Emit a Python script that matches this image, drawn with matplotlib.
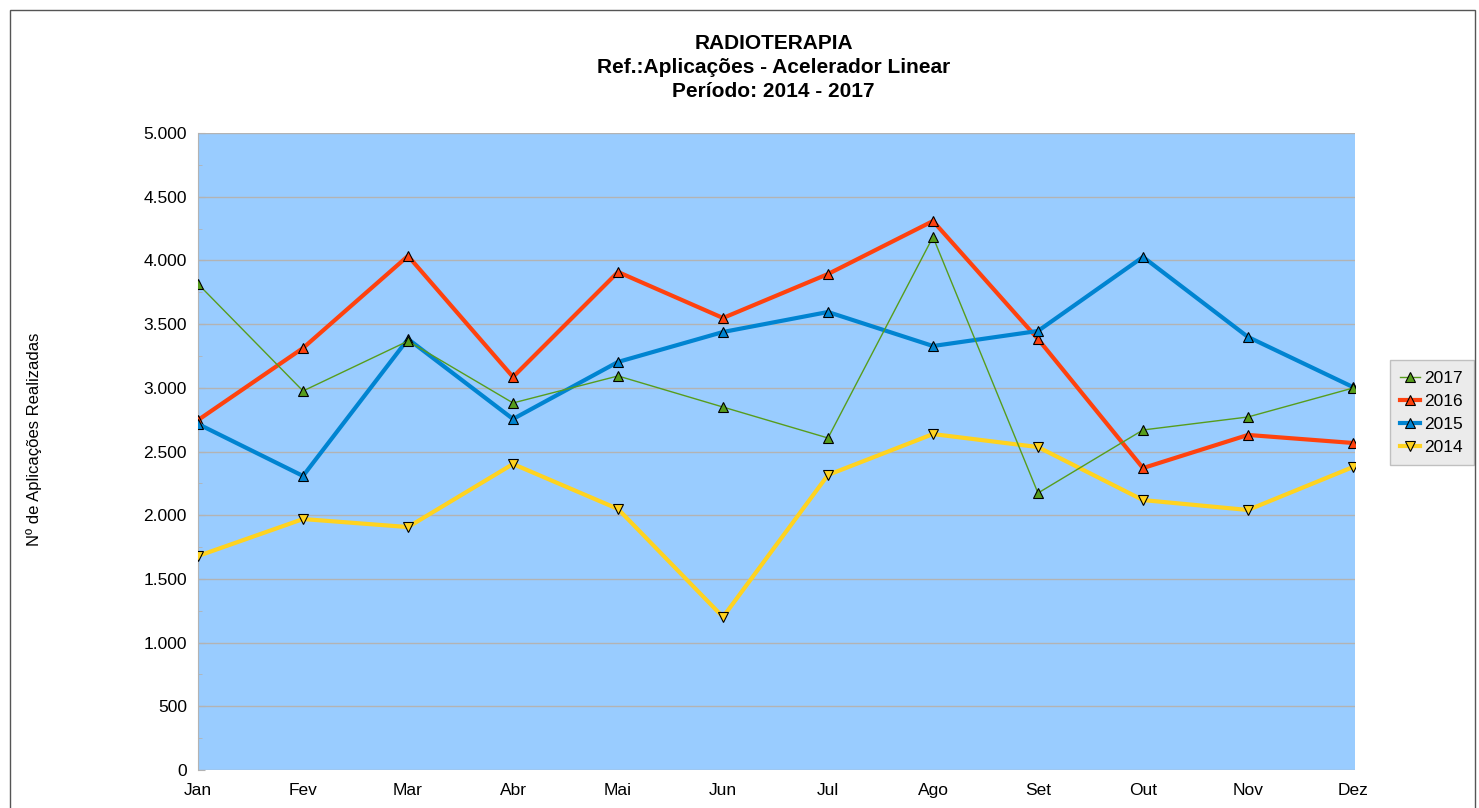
import matplotlib.pyplot as plt
from matplotlib.ticker import MultipleLocator, FuncFormatter
from matplotlib.patches import Rectangle

plt.rcParams['font.family'] = ['Liberation Sans', 'DejaVu Sans']

months = ['Jan', 'Fev', 'Mar', 'Abr', 'Mai', 'Jun', 'Jul', 'Ago', 'Set', 'Out', 'Nov', 'Dez']
v2017 = [3815, 2975, 3367, 2881, 3093, 2849, 2606, 4184, 2174, 2669, 2771, 2998]
v2016 = [2747, 3312, 4035, 3085, 3909, 3548, 3893, 4309, 3383, 2370, 2630, 2567]
v2015 = [2716, 2308, 3383, 2755, 3203, 3438, 3595, 3328, 3446, 4027, 3399, 3006]
v2014 = [1680, 1970, 1907, 2402, 2049, 1201, 2316, 2637, 2535, 2119, 2041, 2378]


def fmt(v, pos):
    return f'{int(v):,}'.replace(',', '.')


def main():
    fig = plt.figure(figsize=(14.79, 8.08), dpi=100)
    fig.patches.append(Rectangle((0.007, -0.01), 0.99, 0.998, transform=fig.transFigure,
                                 fill=False, edgecolor='#555555', linewidth=1))
    ax = fig.add_axes([0.1339, 0.047, 0.7823, 0.7884])
    ax.set_facecolor('#99CCFF')
    x = list(range(len(months)))

    ax.plot(x, v2017, color='#579D1C', lw=1, marker='^', ms=7,
            mfc='#579D1C', mec='black', mew=0.8, label='2017', zorder=5)
    ax.plot(x, v2016, color='#FF420E', lw=3, marker='^', ms=7,
            mfc='#FF420E', mec='black', mew=0.8, label='2016', zorder=4)
    ax.plot(x, v2015, color='#0084D1', lw=3, marker='^', ms=7,
            mfc='#0084D1', mec='black', mew=0.8, label='2015', zorder=4)
    ax.plot(x, v2014, color='#FFD320', lw=3, marker='v', ms=7,
            mfc='#FFD320', mec='black', mew=0.8, label='2014', zorder=4)

    ax.set_xlim(0, 11.02)
    ax.set_ylim(0, 5000)
    ax.set_xticks(x)
    ax.set_xticklabels(months, fontsize=12.5)
    ax.yaxis.set_major_locator(MultipleLocator(500))
    ax.yaxis.set_minor_locator(MultipleLocator(250))
    ax.yaxis.set_major_formatter(FuncFormatter(fmt))
    ax.tick_params(axis='y', labelsize=12.5, length=5, color='#b3b3b3', direction='in', pad=8)
    ax.tick_params(axis='y', which='minor', length=3, color='#b3b3b3', direction='in')
    ax.tick_params(axis='x', length=0, pad=9)
    ax.grid(axis='y', color='#b3b3b3', lw=1)
    ax.set_axisbelow(True)
    for s in ['top', 'right', 'bottom']:
        ax.spines[s].set_visible(False)
    ax.spines['left'].set_color('#b3b3b3')

    ax.set_ylabel('Nº de Aplicações Realizadas', fontsize=12)
    ax.yaxis.set_label_coords(-0.135, 0.519)
    fig.text(0.523, 0.958, 'RADIOTERAPIA\nRef.:Aplicações - Acelerador Linear\nPeríodo: 2014 - 2017',
             ha='center', va='top', fontsize=15, fontweight='bold', linespacing=1.34)

    leg = ax.legend(loc='center left', bbox_to_anchor=(1.03, 0.561), fontsize=12.5,
                    frameon=True, fancybox=False, handlelength=1.15, handletextpad=0.25,
                    borderpad=0.6, labelspacing=0.45, borderaxespad=0)
    leg.get_frame().set_facecolor('#E6E6E6')
    leg.get_frame().set_edgecolor('#b3b3b3')

    fig.savefig('out.png', dpi=100)


if __name__ == '__main__':
    main()
